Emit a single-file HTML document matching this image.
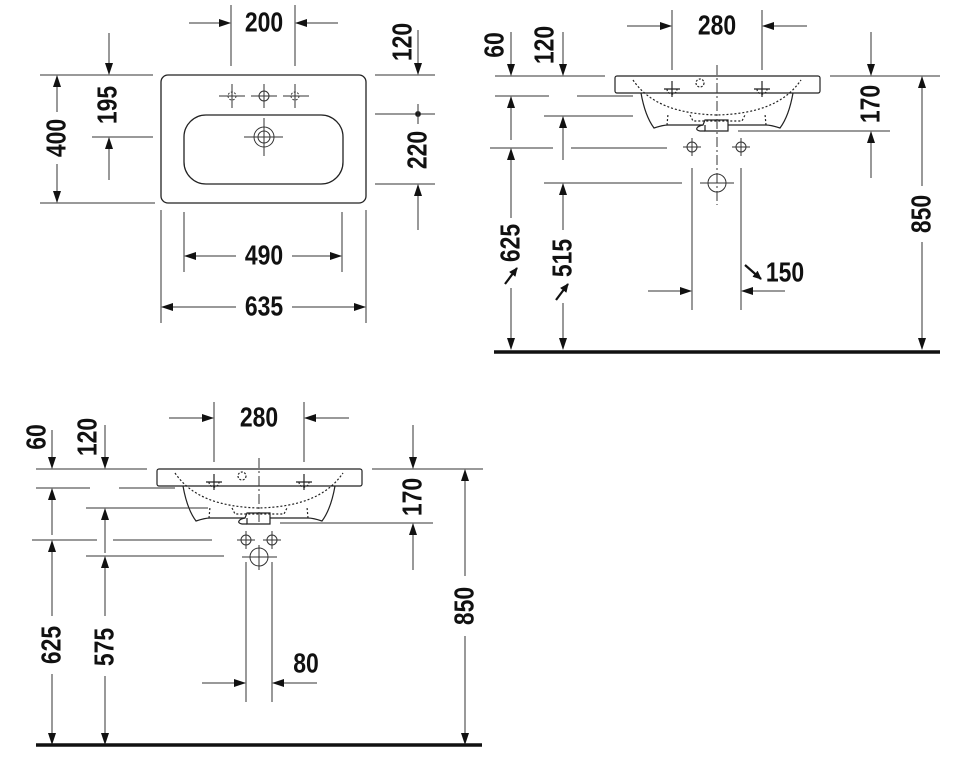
<!DOCTYPE html>
<html><head><meta charset="utf-8"><style>
html,body{margin:0;padding:0;background:#fff}
svg{display:block}
text{font-family:"Liberation Sans",Arial,sans-serif;font-weight:bold;font-size:28px;fill:#111}
</style></head><body>
<svg width="960" height="765" viewBox="0 0 960 765" xmlns="http://www.w3.org/2000/svg">
<defs>
<marker id="a" markerUnits="userSpaceOnUse" markerWidth="12" markerHeight="8" refX="11" refY="4" orient="auto">
<path d="M0,0 L12,4 L0,8 z" fill="#111"/></marker>
<marker id="b" markerUnits="userSpaceOnUse" markerWidth="9" markerHeight="8" refX="8" refY="4" orient="auto">
<path d="M0,0 L9,4 L0,8 z" fill="#111"/></marker>
<g id="sink" fill="none" stroke="#222" stroke-width="1.2">
<rect x="615" y="76" width="205" height="17" rx="2"/>
<path d="M641,93 C644,110 648,120 654,128 C660,126 664,125 668,125 L703,125 L705,120 L728,120 L728,131 L705,131 L705,125"/>
<path d="M703,125 C697,126 694,130 700,131 L705,131"/>
<path d="M728,125 L766,125 C770,125 774,126 780,128 C786,120 790,110 793,93"/>
<path d="M633,80 C650,105 680,114 717,115 C754,114 784,105 801,80" stroke-dasharray="2,2"/>
<path d="M667,125 L668,114 M766,125 L765,114 M690,115 L693,121 L742,121 L745,115" stroke-dasharray="2,2"/>
<circle cx="700" cy="83" r="4" stroke-dasharray="2,1.5"/>
<path d="M664,89 h16 M672,81 v16 M754,89 h16 M762,81 v16"/>
<path d="M667,89 a5,5 0 0 0 10,0 M757,89 a5,5 0 0 0 10,0" stroke-dasharray="2,1.5"/>
</g>
</defs>
<g stroke="#333" stroke-width="1" fill="none">
<!-- TOP LEFT -->
<rect x="161" y="75" width="205" height="128" rx="7" stroke="#222" stroke-width="1.3"/>
<rect x="184" y="115" width="159" height="69" rx="22" stroke="#222" stroke-width="1.3"/>
<circle cx="264" cy="137" r="10"/><circle cx="264" cy="137" r="6"/>
<path d="M244,137 h39 M264,118 v38"/>
<circle cx="264" cy="96" r="5"/>
<circle cx="232" cy="96" r="4" stroke-dasharray="2,1.5"/><circle cx="295" cy="96" r="4" stroke-dasharray="2,1.5"/>
<path d="M219,96 h26 M232,84 v24 M251,96 h26 M264,84 v24 M283,96 h26 M295,84 v24"/>
<path d="M231,5 v61 M295,5 v61"/>
<path d="M189,23 h41" marker-end="url(#a)"/><path d="M338,23 h-42" marker-end="url(#a)"/>
<path d="M375,75 h60 M375,114 h60 M375,184 h60"/>
<path d="M418,30 v44" marker-end="url(#a)"/><path d="M418,230 v-45" marker-end="url(#a)"/>
<circle cx="418" cy="114" r="2.5" fill="#111"/>
<path d="M418,104 v20"/>
<path d="M40,75 h113 M92,137 h61 M40,203 h115"/>
<path d="M109,33 v41" marker-end="url(#a)"/><path d="M109,180 v-42" marker-end="url(#a)"/>
<path d="M57,112 v-36" marker-end="url(#a)"/><path d="M57,164 v38" marker-end="url(#a)"/>
<path d="M184,212 v60 M342,212 v60 M161,210 v113 M366,210 v113"/>
<path d="M236,256 h-51" marker-end="url(#a)"/><path d="M292,256 h49" marker-end="url(#a)"/>
<path d="M236,307 h-74" marker-end="url(#a)"/><path d="M292,307 h73" marker-end="url(#a)"/>

<!-- TOP RIGHT -->
<use href="#sink"/>
<path d="M717,65 v140" stroke-dasharray="10,3,2,3"/>
<path d="M672,10 v60 M762,10 v60"/>
<path d="M627,26 h44" marker-end="url(#a)"/><path d="M807,26 h-44" marker-end="url(#a)"/>
<path d="M495,76 h110 M830,76 h110"/>
<path d="M495,96 h54 M577,96 h56"/>
<path d="M544,116 h89 M490,148 h63 M571,148 h96 M544,183 h138 M738,131 h152"/>
<path d="M511,32 v43" marker-end="url(#a)"/><path d="M563,32 v43" marker-end="url(#a)"/>
<path d="M511,140 v-43" marker-end="url(#a)"/>
<path d="M563,160 v-43" marker-end="url(#a)"/>
<path d="M511,218 v-69" marker-end="url(#a)"/><path d="M511,288 v61" marker-end="url(#a)"/>
<path d="M563,230 v-46" marker-end="url(#a)"/><path d="M563,303 v46" marker-end="url(#a)"/>
<circle cx="692" cy="147" r="5"/><circle cx="741" cy="147" r="5"/>
<path d="M683,147 h18 M692,138 v18 M732,147 h18 M741,138 v18"/>
<circle cx="717" cy="183" r="9"/><path d="M700,183 h34"/>
<path d="M692,168 v142 M741,168 v142"/>
<path d="M648,291 h43" marker-end="url(#a)"/><path d="M785,291 h-43" marker-end="url(#a)"/>
<path d="M871,32 v43" marker-end="url(#a)"/><path d="M871,178 v-46" marker-end="url(#a)"/>
<path d="M922,186 v-109" marker-end="url(#a)"/><path d="M922,242 v107" marker-end="url(#a)"/>

<!-- BOTTOM LEFT -->
<use href="#sink" transform="translate(-458,393)"/>
<path d="M259,458 v67" stroke-dasharray="10,3,2,3"/>
<path d="M214,402 v60 M304,402 v60"/>
<path d="M169,418 h44" marker-end="url(#a)"/><path d="M349,418 h-44" marker-end="url(#a)"/>
<path d="M36,469 h111 M372,469 h111"/>
<path d="M36,488 h54 M119,488 h56"/>
<path d="M86,508 h122 M32,540 h65 M113,540 h99 M86,556 h138 M280,523 h153"/>
<path d="M52,430 v38" marker-end="url(#a)"/><path d="M105,425 v43" marker-end="url(#a)"/>
<path d="M52,535 v-46" marker-end="url(#a)"/>
<path d="M105,553 v-44" marker-end="url(#a)"/>
<path d="M52,616 v-75" marker-end="url(#a)"/><path d="M52,674 v70" marker-end="url(#a)"/>
<path d="M105,616 v-59" marker-end="url(#a)"/><path d="M105,676 v68" marker-end="url(#a)"/>
<circle cx="246" cy="540" r="5"/><circle cx="272" cy="540" r="5"/>
<path d="M237,540 h18 M246,531 v18 M263,540 h18 M272,531 v18"/>
<circle cx="259" cy="557" r="9"/><path d="M242,557 h35 M259,545 v25"/>
<path d="M246,562 v140 M272,562 v140"/>
<path d="M202,683 h43" marker-end="url(#a)"/><path d="M317,683 h-44" marker-end="url(#a)"/>
<path d="M413,425 v43" marker-end="url(#a)"/><path d="M413,570 v-46" marker-end="url(#a)"/>
<path d="M465,576 v-106" marker-end="url(#a)"/><path d="M465,636 v108" marker-end="url(#a)"/>
</g>
<!-- floors -->
<path d="M494,352 h446" stroke="#111" stroke-width="3.5"/>
<path d="M36,745 h446" stroke="#111" stroke-width="3.5"/>
<!-- diagonal arrows -->
<g stroke="#111" stroke-width="2.2">
<path d="M505,284 L517,268" marker-end="url(#b)"/>
<path d="M556,300 L568,284" marker-end="url(#b)"/>
<path d="M745,265 L761,279" marker-end="url(#b)"/>
</g>
<!-- labels -->
<g text-anchor="middle" dominant-baseline="central">
<text transform="translate(264,23) scale(0.82,1)">200</text>
<text transform="translate(264,256) scale(0.82,1)">490</text>
<text transform="translate(264,307) scale(0.82,1)">635</text>
<text transform="translate(403,42) rotate(-90) scale(0.82,1)">120</text>
<text transform="translate(418,150) rotate(-90) scale(0.82,1)">220</text>
<text transform="translate(108,105) rotate(-90) scale(0.82,1)">195</text>
<text transform="translate(57,138) rotate(-90) scale(0.82,1)">400</text>
<text transform="translate(717,26) scale(0.82,1)">280</text>
<text transform="translate(495,45) rotate(-90) scale(0.82,1)">60</text>
<text transform="translate(545,45) rotate(-90) scale(0.82,1)">120</text>
<text transform="translate(871,104) rotate(-90) scale(0.82,1)">170</text>
<text transform="translate(922,214) rotate(-90) scale(0.82,1)">850</text>
<text transform="translate(511,243) rotate(-90) scale(0.82,1)">625</text>
<text transform="translate(563,258) rotate(-90) scale(0.82,1)">515</text>
<text transform="translate(785,273) scale(0.82,1)">150</text>
<text transform="translate(259,418) scale(0.82,1)">280</text>
<text transform="translate(37,437) rotate(-90) scale(0.82,1)">60</text>
<text transform="translate(88,437) rotate(-90) scale(0.82,1)">120</text>
<text transform="translate(413,497) rotate(-90) scale(0.82,1)">170</text>
<text transform="translate(465,606) rotate(-90) scale(0.82,1)">850</text>
<text transform="translate(52,645) rotate(-90) scale(0.82,1)">625</text>
<text transform="translate(105,647) rotate(-90) scale(0.82,1)">575</text>
<text transform="translate(306,664) scale(0.82,1)">80</text>
</g>
</svg>
</body></html>
